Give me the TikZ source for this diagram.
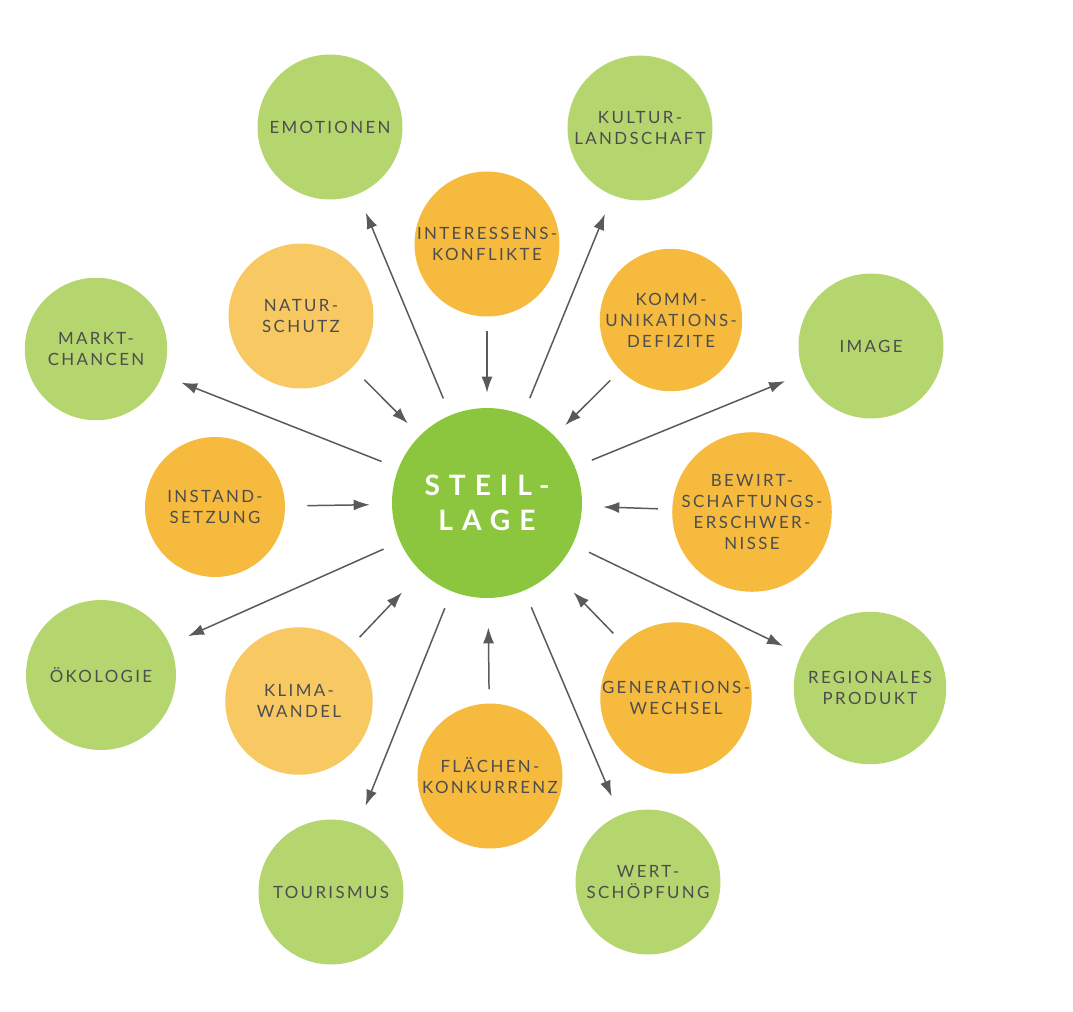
\documentclass[tikz,border=0pt]{standalone}
\usepackage{fontspec}
\setmainfont{Lato}
\newfontfamily\labelfont[LetterSpace=14]{Lato}
\newfontfamily\corefont[LetterSpace=32]{Lato}
\definecolor{leafgreen}{HTML}{B5D56F}
\definecolor{coregreen}{HTML}{8CC63E}
\definecolor{amber}{HTML}{F6BA3E}
\definecolor{paleamber}{HTML}{F8C862}
\definecolor{inkgray}{HTML}{4D4D4D}
\definecolor{arrowgray}{HTML}{5A5A5A}
\usetikzlibrary{shapes,arrows.meta,positioning,calc}

\begin{document}
\begin{tikzpicture}[
  x=0.02cm, y=-0.02cm,
  blob/.style={circle, inner sep=0pt, align=center, text=inkgray, font=\labelfont\fontsize{9.6}{12}\selectfont},
  effect/.style={blob, fill=leafgreen, minimum size=2.9cm},
  cause/.style={blob, fill=amber, minimum size=2.9cm},
  softcause/.style={blob, fill=paleamber, minimum size=2.95cm},
  core/.style={circle, inner sep=0pt, fill=coregreen, minimum size=3.8cm, align=center, text=white, font=\corefont\bfseries\fontsize{16}{20}\selectfont},
  outflow/.style={-{Latex[length=3.2mm,width=2.2mm]}, line width=0.85pt, arrowgray, shorten <=0.36cm, shorten >=0.4cm},
  inflow/.style={-{Latex[length=3.2mm,width=2.2mm]}, line width=0.85pt, arrowgray, shorten <=0.28cm, shorten >=0.3cm},
]
\useasboundingbox (0,0) rectangle (1073,1012);

\node[core] (steil) at (487,503) {STEIL-\\LAGE};

\node[effect] (emo) at (330,127) {EMOTIONEN};
\node[effect] (kult) at (640,128) {KULTUR-\\LANDSCHAFT};
\node[effect] (img) at (871,346) {IMAGE};
\node[effect, minimum size=3.05cm] (reg) at (870,688) {REGIONALES\\PRODUKT};
\node[effect] (wert) at (648,882) {WERT-\\SCHÖPFUNG};
\node[effect] (tour) at (331,892) {TOURISMUS};
\node[effect, minimum size=3.0cm] (oeko) at (101,675) {ÖKOLOGIE};
\node[effect, minimum size=2.85cm] (markt) at (96,349) {MARKT-\\CHANCEN};

\node[cause] (inter) at (487,244) {INTERESSENS-\\KONFLIKTE};
\node[cause, minimum size=2.85cm] (komm) at (671,320) {KOMM-\\UNIKATIONS-\\DEFIZITE};
\node[cause, minimum size=3.05cm] (bewi) at (752,512) {BEWIRT-\\SCHAFTUNGS-\\ERSCHWER-\\NISSE};
\node[cause, minimum size=3.0cm] (gen) at (676,698) {GENERATIONS-\\WECHSEL};
\node[cause] (flae) at (490,776) {FLÄCHEN-\\KONKURRENZ};
\node[softcause] (klima) at (299,701) {KLIMA-\\WANDEL};
\node[cause, minimum size=2.8cm] (inst) at (215,507) {INSTAND-\\SETZUNG};
\node[softcause, minimum size=2.9cm] (natur) at (301,316) {NATUR-\\SCHUTZ};

\draw[outflow] (steil) -- (emo);
\draw[outflow] (steil) -- (kult);
\draw[outflow] (steil) -- (img);
\draw[outflow] (steil) -- (reg);
\draw[outflow] (steil) -- (wert);
\draw[outflow] (steil) -- (tour);
\draw[outflow] (steil) -- (oeko);
\draw[outflow] (steil) -- (markt);

\draw[inflow] (inter) -- (steil);
\draw[inflow] (komm) -- (steil);
\draw[inflow, shorten >=0.42cm] (bewi) -- (steil);
\draw[inflow, shorten >=0.58cm] (gen) -- (steil);
\draw[inflow, shorten >=0.58cm] (flae) -- (steil);
\draw[inflow, shorten >=0.56cm] (klima) -- (steil);
\draw[inflow, shorten <=0.44cm, shorten >=0.44cm] (inst) -- (steil);
\draw[inflow, shorten <=0.34cm, shorten >=0.34cm] (natur) -- (steil);
\end{tikzpicture}
\end{document}
